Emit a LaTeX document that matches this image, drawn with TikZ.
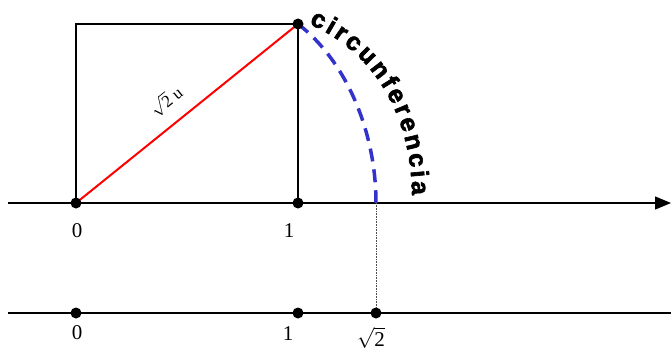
\documentclass[tikz,border=0pt]{standalone}
\usepackage{fontspec}
\setmainfont{Liberation Serif}
\newfontfamily\circfont{Liberation Sans}[BoldFeatures={FakeBold=2.5}]
\usetikzlibrary{decorations.text,arrows.meta}
\definecolor{arcblue}{RGB}{51,51,204}
\begin{document}
\begin{tikzpicture}[x=1pt,y=-1pt,
  dot/.style={circle,fill=black,minimum size=11pt,inner sep=0pt},
  lbl/.style={font=\fontsize{21}{21}\selectfont,inner sep=0pt},
  axis/.style={line width=1.4pt},
  sq/.style={line width=1.2pt},
  arcline/.style={arcblue,line width=3.5pt,dash pattern=on 13pt off 8pt},
  proj/.style={densely dotted,line width=0.6pt,black!70}]
\useasboundingbox (0,0) rectangle (671,350);
% coordinates
\coordinate (l1) at (8,203);
\coordinate (r1) at (671,203);
\coordinate (l2) at (8,313);
\coordinate (r2) at (671,313);
\coordinate (o) at (76,203);
\coordinate (a) at (298,203);
\coordinate (b) at (298,24);
\coordinate (tl) at (76,24);
\coordinate (s) at (376,203);
\coordinate (o2) at (76,313);
\coordinate (a2) at (298,313);
\coordinate (s2) at (376,313);
% axes
\draw[axis,-{Triangle[length=16pt,width=13pt]}] (l1) -- (r1);
\draw[axis] (l2) -- (r2);
% square
\draw[sq] (o) -- (tl) -- (b) -- (a);
% diagonal
\draw[red,line width=2pt] (o) -- (b);
% arc
\draw[arcline] (b) .. controls (345,60) and (376,130) .. (s);
% projection
\draw[proj] (s) -- (s2);
% dots
\node[dot] (O) at (o) {};
\node[dot] (A) at (a) {};
\node[dot] (B) at (b) {};
\node[dot] (O2) at (o2) {};
\node[dot] (A2) at (a2) {};
\node[dot] (S2) at (s2) {};
% labels
\node[lbl] (lo) at (77,231) {0};
\node[lbl] (la) at (289,231) {1};
\node[lbl] (lo2) at (77,333) {0};
\node[lbl] (la2) at (288,334) {1};
\node[lbl] (ls2) at (371,338) {$\sqrt{\hbox{2}}$};
\node[rotate=39,font=\fontsize{17}{17}\selectfont,inner sep=0pt] (lu) at (166,101) {$\sqrt{\hbox{2}}$ u};
% curved text
\path[decorate,decoration={text along path,
  text={|\circfont\bfseries\fontsize{25}{25}\selectfont|circunferencia},
  text align={fit to path}}]
  (309,24) .. controls (370,50) and (411,110) .. (412,195);
\end{tikzpicture}
\end{document}
